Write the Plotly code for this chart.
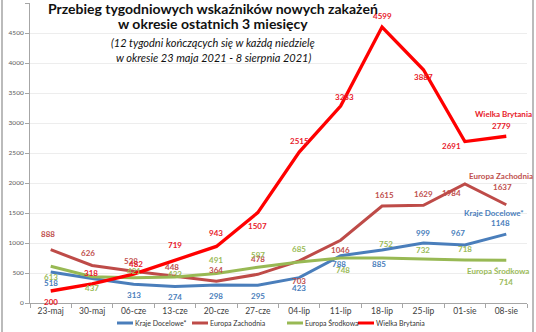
import plotly.graph_objects as go

categories = ["23-maj", "30-maj", "06-cze", "13-cze", "20-cze", "27-cze",
              "04-lip", "11-lip", "18-lip", "25-lip", "01-sie", "08-sie"]
kraje_docelowe = [518, 409, 313, 274, 298, 295, 423, 788, 885, 999, 967, 1148]
europa_zachodnia = [888, 626, 528, 448, 364, 478, 703, 1046, 1615, 1629, 1984, 1637]
europa_srodkowa = [613, 437, 421, 433, 491, 597, 685, 748, 752, 732, 718, 714]
wielka_brytania = [200, 318, 482, 719, 943, 1507, 2515, 3283, 4599, 3887, 2691, 2779]
y_ticks = [0, 500, 1000, 1500, 2000, 2500, 3000, 3500, 4000, 4500, 5000]

series = [
    ("Kraje Docelowe*", kraje_docelowe, "#4A7EBB", 3,
     [(0, -11), None, (0, -11), (0, -10), (0, -11), (0, -11), (0, -10), (-2, -8), (-3, -14), (0, 10), (-7, 12), (-6, 11)],
     (-12, 21)),
    ("Europa Zachodnia", europa_zachodnia, "#BE4B48", 3,
     [(-3, 16), (-4, 12), (-3, 10), (-3, 9), (0, 11), (0, 15), (0, -20), (0, -10), (2, 11), (0, 11), (-13, -9), (-4, 18)],
     (-5, 29)),
    ("Europa Środkowa", europa_srodkowa, "#98B954", 3,
     [(0, -11), (0, -11), (0, 7), (0, 3), (0, 14), (0, 12), (0, 13), (2, -12), (4, 14), (0, 9), (0, 11), (0, -22)],
     (-8, -11)),
    ("Wielka Brytania", wielka_brytania, "#FF0000", 3.3,
     [(0, -11), (-1, 11), (2, 10), (0, 15), (0, 13), (0, -13), (0, 11), (4, 9), (0, 11), (0, -7), (-13, -4), (-5, 10)],
     (-3, 22)),
]
label_colors = {"Kraje Docelowe*": "#4A7EBB", "Europa Zachodnia": "#C0504D",
                "Europa Środkowa": "#9BBB59", "Wielka Brytania": "#E8202A"}

fig = go.Figure()
annotations = []
LBL_FONT = "Lato"
for name, vals, color, width, offs, name_off in series:
    fig.add_trace(go.Scatter(x=categories, y=vals, mode="lines", name=name,
                             line=dict(color=color, width=width), showlegend=False))
    for i, (c, v) in enumerate(zip(categories, vals)):
        if offs[i] is None:
            continue
        dx, dy = offs[i]
        annotations.append(dict(x=c, y=v, xref="x", yref="y", text=str(v), showarrow=False,
                                xshift=dx, yshift=dy,
                                font=dict(family=LBL_FONT, size=8, color=label_colors[name], weight="bold")))
    annotations.append(dict(x=categories[-1], y=vals[-1], xref="x", yref="y", text=name, showarrow=False,
                            xshift=name_off[0], yshift=name_off[1],
                            font=dict(family=LBL_FONT, size=8, color=label_colors[name], weight="bold")))

PX_L, PX_R, PX_T, PX_B = 30, 527, 3, 303
def px(xp):
    return (xp - PX_L) / (PX_R - PX_L)
def py(yp):
    return (PX_B - yp) / (PX_B - PX_T)

title_lines = [
    ("<b>Przebieg tygodniowych wskaźników nowych zakażeń</b>", 8, 14, False),
    ("<b>w okresie ostatnich 3 miesięcy</b>", 24, 14, False),
    ("<i>(12 tygodni kończących się w każdą niedzielę</i>", 42, 11, True),
    ("<i>w okresie 23 maja 2021 - 8 sierpnia 2021)</i>", 57, 11, True),
]
for txt, yc, sz, it in title_lines:
    annotations.append(dict(x=px(213), y=py(yc), xref="paper", yref="paper", text=txt,
                            showarrow=False, xanchor="center", yanchor="middle",
                            font=dict(family="Lato", size=sz, color="#111111")))

legend_items = [("Kraje Docelowe*", "#4A7EBB", 117), ("Europa Zachodnia", "#BE4B48", 192),
                ("Europa Środkowa", "#98B954", 287), ("Wielka Brytania", "#FF0000", 358)]
shapes = []
for name, color, x0 in legend_items:
    shapes.append(dict(type="line", xref="paper", yref="paper", x0=px(x0), x1=px(x0 + 16),
                       y0=py(323), y1=py(323), line=dict(color=color, width=3)))
    annotations.append(dict(x=px(x0 + 16), y=py(323), xref="paper", yref="paper", text=name,
                            showarrow=False, xanchor="left", yanchor="middle",
                            font=dict(family="Lato", size=7, color="#333333")))

shapes.append(dict(type="line", xref="paper", yref="paper", x0=px(2), x1=px(2), y0=py(0), y1=py(332),
                   line=dict(color="#BBBBBB", width=2)))
shapes.append(dict(type="line", xref="paper", yref="paper", x0=px(533), x1=px(533), y0=py(0), y1=py(332),
                   line=dict(color="#BBBBBB", width=2)))

fig.update_layout(
    width=536, height=332,
    margin=dict(l=PX_L, r=536 - PX_R, t=PX_T, b=332 - PX_B),
    paper_bgcolor="white", plot_bgcolor="white",
    annotations=annotations, shapes=shapes, showlegend=False,
    xaxis=dict(type="category", range=[-0.5, 11.5], showgrid=False, showline=True,
               linecolor="#A6A6A6", linewidth=1, ticks="outside", ticklen=4, tickcolor="#A6A6A6",
               tickson="boundaries", tickfont=dict(family="Lato", size=8.5, color="#404040")),
    yaxis=dict(range=[0, 5000], tickvals=y_ticks, showgrid=True, gridcolor="#EDEDED", gridwidth=1,
               showline=True, linecolor="#A6A6A6", linewidth=1, ticks="outside", ticklen=4,
               tickcolor="#A6A6A6", zeroline=False,
               tickfont=dict(family="Lato", size=6.5, color="#595959")),
)
fig.write_html("out.html")
